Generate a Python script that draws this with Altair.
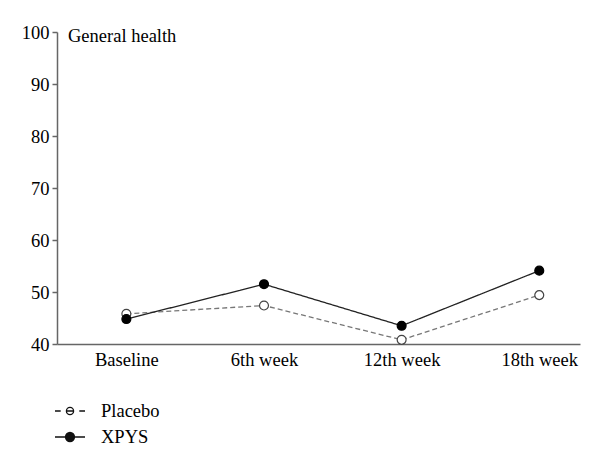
import altair as alt
import pandas as pd

categories = ["Baseline", "6th week", "12th week", "18th week"]
placebo = [45.8, 47.4, 40.8, 49.4]
xpys = [44.8, 51.5, 43.5, 54.1]
series_names = ["Placebo", "XPYS"]

rows = []
for name, vals in zip(series_names, [placebo, xpys]):
    for c, v in zip(categories, vals):
        rows.append({"time": c, "score": v, "series": name})
df = pd.DataFrame(rows)

FONT = "Liberation Serif"
FS = 18.5

x_enc = alt.X("time:N", sort=categories, title=None,
              scale=alt.Scale(type="point", padding=0.4, align=0.63),
              axis=alt.Axis(labelAngle=0, ticks=False, labelPadding=6,
                            labelFontSize=FS, labelFont=FONT, labelColor="black",
                            domainColor="#666", domainWidth=1.5))
y_enc = alt.Y("score:Q", title=None,
              scale=alt.Scale(domain=[40, 100], nice=False, zero=False),
              axis=alt.Axis(values=[40, 50, 60, 70, 80, 90, 100], grid=False,
                            tickSize=5, tickColor="#666", tickWidth=1.5,
                            labelPadding=3, labelFontSize=FS, labelFont=FONT,
                            labelColor="black", domainColor="#666", domainWidth=1.5))

base = alt.Chart(df)

lines = base.mark_line(strokeWidth=1.3).encode(
    x=x_enc, y=y_enc,
    color=alt.Color("series:N", scale=alt.Scale(domain=series_names, range=["#777777", "#222222"]), legend=None),
    strokeDash=alt.StrokeDash("series:N", scale=alt.Scale(domain=series_names, range=[[5, 3], [1, 0]]), legend=None),
)

points = base.mark_point(filled=False, size=80, strokeWidth=1.2, opacity=1).encode(
    x=x_enc, y=y_enc,
    fill=alt.Fill("series:N", scale=alt.Scale(domain=series_names, range=["white", "black"]), legend=None),
    stroke=alt.Stroke("series:N", scale=alt.Scale(domain=series_names, range=["#444444", "black"]), legend=None),
)


def ring(r, sweep=1):
    return f"M{r},0A{r},{r},0,1,{sweep},{-r},0A{r},{r},0,1,{sweep},{r},0Z"


# legend symbols: line segment(s) with an open / filled circle
sym_placebo = "M-1,0H-0.62M0.62,0H1" + ring(0.24, 1) + ring(0.24, 0) + "M-0.24,0H0.24"
sym_xpys = "M-1,0H1" + ring(0.3) + ring(0.25) + ring(0.2) + ring(0.15) + ring(0.1) + ring(0.05)

leg = alt.Legend(title=None, orient="none", legendX=-3, legendY=363,
                 symbolSize=900, symbolStrokeColor="#111", symbolStrokeWidth=1.3,
                 symbolFillColor="black", symbolOpacity=1, labelFont=FONT, labelFontSize=FS,
                 labelColor="black", labelOffset=15, rowPadding=0)

legend_layer = base.mark_point(opacity=0, size=10).encode(
    x=x_enc, y=y_enc,
    shape=alt.Shape("series:N", scale=alt.Scale(domain=series_names, range=[sym_placebo, sym_xpys]),
                    legend=leg),
)

chart = alt.layer(lines, points, legend_layer).resolve_scale(
    shape="independent"
).properties(
    width=523, height=312,
    padding={"left": 49, "top": 24, "right": 12, "bottom": 110},
    autosize=alt.AutoSizeParams(type="none"),
    title=alt.TitleParams("General health", anchor="start", frame="group", font=FONT,
                          fontSize=FS, fontWeight="normal", color="black",
                          baseline="top", offset=0, dx=11, dy=22, orient="top"),
).configure_view(stroke=None)

chart.save("out.html", embed_options={"renderer": "svg", "actions": False})
